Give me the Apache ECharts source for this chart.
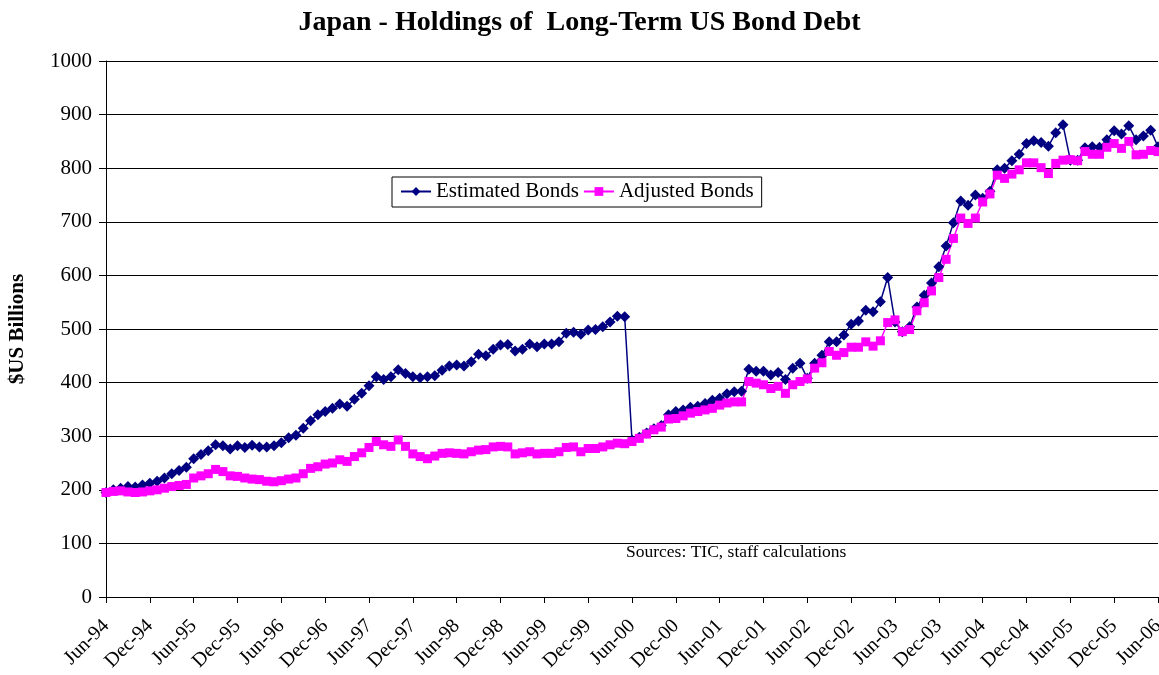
<!DOCTYPE html>
<html>
<head>
    <meta charset="utf-8">
    <title>Japan - Holdings of Long-Term US Bond Debt</title>
    <script src="https://cdn.jsdelivr.net/npm/echarts@6/dist/echarts.min.js"></script>
    <style>
        html, body { margin: 0; padding: 0; background: #fff; overflow: hidden; }
        #chart { width: 1159px; height: 675px; }
    </style>
</head>
<body>
    <div id="chart"></div>
    <script>
        // monthly, Jun-94 .. Jun-06
        var monthNames = ['Jan', 'Feb', 'Mar', 'Apr', 'May', 'Jun', 'Jul', 'Aug', 'Sep', 'Oct', 'Nov', 'Dec'];
        var startYear = 1994;
        var startMonth = 5; // Jun
        var monthCount = 145;

        var estimatedBonds = [
            195, 200, 203, 206, 205, 209, 212, 216, 222, 230, 236, 242,
            258, 266, 273, 284, 282, 276, 282, 279, 283, 280, 280, 282,
            288, 297, 302, 315, 329, 340, 346, 352, 360, 356, 369, 380,
            394, 411, 406, 411, 424, 417, 411, 409, 411, 413, 423, 431,
            433, 431, 439, 453, 450, 462, 470, 471, 459, 462, 472, 467,
            472, 472, 476, 492, 494, 490, 498, 499, 504, 513, 524, 523,
            293, 298, 306, 314, 320, 340, 346, 349, 354, 356, 361, 367,
            371, 379, 383, 384, 425, 421, 421, 414, 419, 406, 427, 436,
            408, 436, 451, 476, 476, 489, 509, 515, 535, 532, 551, 596,
            513, 495, 504, 541, 563, 586, 616, 655, 698, 739, 731, 750,
            744, 757, 797, 800, 814, 826, 846, 851, 848, 841, 866, 881,
            815, 815, 838, 840, 839, 853, 870, 864, 879, 853, 860, 871,
            840
        ];

        var adjustedBonds = [
            195, 197, 198, 196, 195, 196, 198, 200, 203, 206, 208, 210,
            222, 226, 230, 238, 234, 226, 225, 222, 220, 219, 216, 215,
            217, 220, 222, 230, 240, 243, 248, 250, 256, 253, 262, 269,
            279, 290, 284, 281, 293, 281, 267, 262, 258, 263, 268, 269,
            268, 267, 271, 274, 275, 280, 281, 280, 267, 269, 271, 267,
            268, 268, 271, 279, 280, 271, 277, 277, 280, 284, 287, 286,
            290, 296, 304, 312, 317, 332, 333, 338, 343, 346, 349, 352,
            358, 362, 364, 364, 402, 399, 396, 389, 393, 380, 396, 402,
            407, 427, 437, 458, 451, 456, 466, 466, 476, 468, 478, 512,
            517, 495, 499, 534, 549, 571, 596, 630, 669, 707, 697, 707,
            737, 752, 787, 781, 789, 797, 810, 810, 801, 790, 809, 815,
            816, 814, 831, 826, 826, 839, 846, 837, 850, 825, 826, 833,
            831
        ];

        var categories = [];
        for (var i = 0; i < monthCount; i++) {
            var m = (startMonth + i) % 12;
            var y = startYear + Math.floor((startMonth + i) / 12);
            categories.push(monthNames[m] + '-' + String(y % 100).padStart(2, '0'));
        }

        var serif = '"Liberation Serif", "Times New Roman", serif';

        var chart = echarts.init(document.getElementById('chart'));

        var option = {
            backgroundColor: '#fff',
            animation: false,
            title: {
                text: 'Japan - Holdings of  Long-Term US Bond Debt',
                left: 'center',
                top: 4,
                textStyle: { fontFamily: serif, fontSize: 28, fontWeight: 'bold', color: '#000' }
            },
            legend: {
                left: 392,
                top: 177,
                padding: [4, 8, 5, 8],
                borderColor: '#000',
                borderWidth: 1,
                itemGap: 4,
                itemWidth: 30,
                itemHeight: 11,
                textStyle: { fontFamily: serif, fontSize: 21, color: '#000' },
                data: ['Estimated Bonds', 'Adjusted Bonds']
            },
            grid: { left: 106, right: 1, top: 61, bottom: 78, outerBoundsMode: 'none', containLabel: false },
            xAxis: {
                type: 'category',
                data: categories,
                boundaryGap: false,
                axisLine: { lineStyle: { color: '#000', width: 1 } },
                axisTick: { show: true, interval: 5, length: 6, lineStyle: { color: '#000' } },
                axisLabel: {
                    interval: 5,
                    rotate: 45,
                    margin: 26,
                    fontFamily: serif,
                    fontSize: 20,
                    color: '#000'
                },
                splitLine: { show: false }
            },
            yAxis: {
                type: 'value',
                min: 0,
                max: 1000,
                interval: 100,
                name: '$US Billions',
                nameLocation: 'middle',
                nameGap: 78,
                nameRotate: 90,
                nameTextStyle: { fontFamily: serif, fontSize: 21, fontWeight: 'bold', color: '#000' },
                axisLine: { show: true, lineStyle: { color: '#000', width: 1 } },
                axisTick: { show: true, length: 7, lineStyle: { color: '#000' } },
                axisLabel: {
                    fontFamily: serif, fontSize: 21, color: '#000', margin: 14,
                    formatter: function (v) { return String(v); }
                },
                splitLine: { show: true, lineStyle: { color: '#000', width: 1 } }
            },
            graphic: [{
                type: 'text',
                left: 626,
                top: 543,
                style: {
                    text: 'Sources: TIC, staff calculations',
                    font: '17.5px ' + serif,
                    fill: '#000'
                }
            }],
            series: [{
                name: 'Estimated Bonds',
                type: 'line',
                data: estimatedBonds,
                symbol: 'diamond',
                symbolSize: 11,
                showAllSymbol: true,
                itemStyle: { color: '#000080' },
                lineStyle: { color: '#000080', width: 1.5 }
            }, {
                name: 'Adjusted Bonds',
                type: 'line',
                data: adjustedBonds,
                symbol: 'rect',
                symbolSize: 9,
                showAllSymbol: true,
                itemStyle: { color: '#FF00FF' },
                lineStyle: { color: '#FF00FF', width: 1.5 }
            }]
        };

        chart.setOption(option);
    </script>
</body>
</html>
